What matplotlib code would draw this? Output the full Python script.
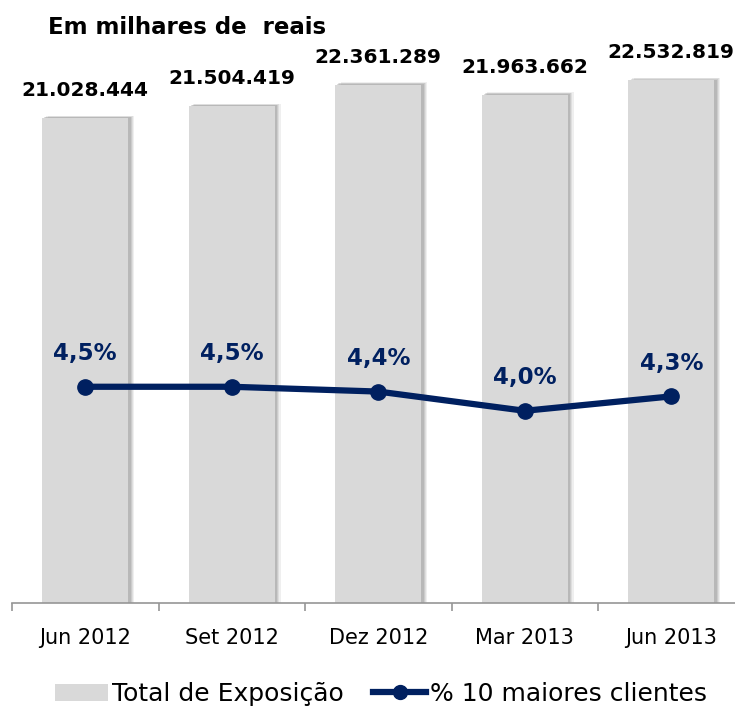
import matplotlib.pyplot as plt
import matplotlib.patheffects as pe
import numpy as np
from matplotlib.lines import Line2D
from matplotlib.patches import Patch

# dados
periodos = ['Jun 2012', 'Set 2012', 'Dez 2012', 'Mar 2013', 'Jun 2013']
total_exposicao = [21028444, 21504419, 22361289, 21963662, 22532819]
pct_10_maiores = [4.5, 4.5, 4.4, 4.0, 4.3]

cor_barra = '#D9D9D9'
cor_linha = '#002060'

plt.rcParams['font.family'] = ['DejaVu Sans']

fig = plt.figure(figsize=(7.35, 7.11), dpi=100)
ax = fig.add_axes([12 / 735, 108 / 711, 732.5 / 735, 543 / 711])
ax2 = ax.twinx()

x = np.arange(len(periodos))

# barras com sombra (borrada com várias camadas)
sombra = [
    pe.SimplePatchShadow(offset=(4.0, 1.8), shadow_rgbFace='#808080', alpha=0.12),
    pe.SimplePatchShadow(offset=(3.2, 1.4), shadow_rgbFace='#808080', alpha=0.15),
    pe.SimplePatchShadow(offset=(2.4, 1.0), shadow_rgbFace='#808080', alpha=0.2),
    pe.SimplePatchShadow(offset=(1.5, 0.6), shadow_rgbFace='#808080', alpha=0.25),
    pe.Normal(),
]
bars = ax.bar(x, total_exposicao, width=0.59, color=cor_barra, zorder=2)
for b in bars:
    b.set_path_effects(sombra)

ax.set_ylim(1.63e6, 1.63e6 + 21.72e6)
ax.set_xlim(-0.5, len(periodos) - 0.5)

# rótulos das barras
for i, v in enumerate(total_exposicao):
    rot = f'{v:,}'.replace(',', '.')
    ax.annotate(rot, (x[i], v), xytext=(0, 13), textcoords='offset points',
                ha='center', va='bottom', fontsize=14.5, fontweight='bold', color='black')

# linha
ax2.plot(x, pct_10_maiores, color=cor_linha, lw=4.5, marker='o', ms=11, zorder=3)
ax2.set_ylim(0, 11.3)
for i, v in enumerate(pct_10_maiores):
    ax2.annotate(f'{v:.1f}%'.replace('.', ','), (x[i], v), xytext=(0, 24),
                 textcoords='offset points', ha='center', va='center',
                 fontsize=16.5, fontweight='bold', color=cor_linha)

# eixos
for a in (ax, ax2):
    for s in ['top', 'right', 'left']:
        a.spines[s].set_visible(False)
    a.set_yticks([])
ax2.spines['bottom'].set_visible(False)
ax.spines['bottom'].set_color('#969696')
ax.spines['bottom'].set_linewidth(1.2)
ax.set_xticks(x)
ax.set_xticklabels(periodos, fontsize=15)
ax.tick_params(axis='x', which='major', length=0, pad=18)
ax.set_xticks(np.arange(-0.5, len(periodos)), minor=True)
ax.tick_params(axis='x', which='minor', length=6, width=1.2, color='#969696')

fig.text(187 / 735, 1 - 28 / 711, 'Em milhares de  reais', ha='center', va='center',
         fontsize=16.5, fontweight='bold')

# legenda
handles = [Patch(facecolor=cor_barra, edgecolor='none'),
           Line2D([], [], color=cor_linha, lw=4.5, marker='o', ms=10)]
fig.legend(handles, ['Total de Exposição', '% 10 maiores clientes'],
           loc='center', bbox_to_anchor=(381 / 735, 1 - 694 / 711), ncol=2, frameon=False,
           fontsize=18, handlelength=2.1, handletextpad=0.15, columnspacing=1.2)

fig.savefig('out.png', dpi=100)
